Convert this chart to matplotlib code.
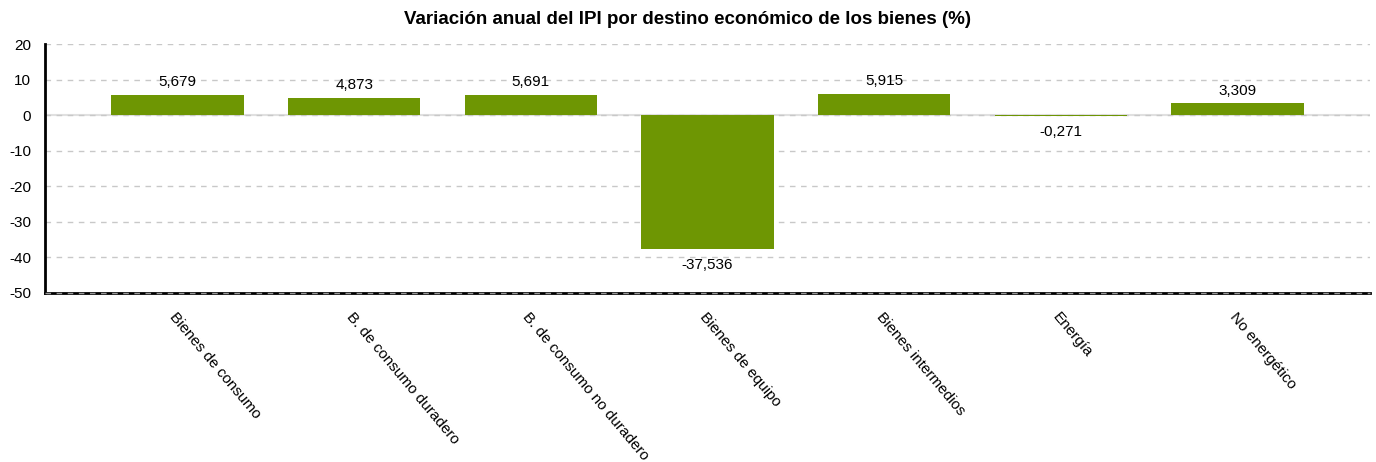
import numpy as np
import matplotlib.pyplot as plt

plt.rcParams['font.family'] = ['Liberation Sans', 'DejaVu Sans']

categorias = ['Bienes de consumo', 'B. de consumo duradero', 'B. de consumo no duradero',
              'Bienes de equipo', 'Bienes intermedios', 'Energía', 'No energético']
valores = [5.679, 4.873, 5.691, -37.536, 5.915, -0.271, 3.309]
etiquetas = ['5,679', '4,873', '5,691', '-37,536', '5,915', '-0,271', '3,309']
yticks = [20, 10, 0, -10, -20, -30, -40, -50]

fig = plt.figure(figsize=(13.76, 4.62), dpi=100)
ax = fig.add_axes([45 / 1376, 1 - 293 / 462, 1325 / 1376, 249 / 462])

x = np.arange(len(categorias))
ax.bar(x, valores, width=0.75, color='#6e9603', zorder=3)

for xi, v, t in zip(x, valores, etiquetas):
    if v >= 0:
        ax.text(xi, v + 1.6, t, ha='center', va='bottom', fontsize=11)
    else:
        ax.text(xi, v - 2.6, t, ha='center', va='top', fontsize=11)

ax.set_xlim(-0.75, 6.75)
ax.set_ylim(-50, 20)
ax.set_yticks(yticks)
ax.set_yticklabels([str(t) for t in yticks], fontsize=11)
ax.yaxis.grid(True, linestyle=(0, (4, 4)), color='#c8c8c8', linewidth=1, zorder=0)
ax.axhline(0, color='#e0e0e0', linewidth=1.5, zorder=1)

ax.set_xticks(x)
ax.set_xticklabels(categorias, rotation=-50, ha='left', va='top',
                   rotation_mode='anchor', fontsize=11)
ax.tick_params(axis='x', length=0, pad=12)
ax.tick_params(axis='y', length=0, pad=10)

for s in ['top', 'right']:
    ax.spines[s].set_visible(False)
ax.spines['left'].set_linewidth(2)
ax.spines['bottom'].set_linewidth(2)
ax.axhline(-50, color='#9a9a9a', linewidth=1, linestyle=(0, (4, 4)), zorder=4, clip_on=False)

fig.suptitle('Variación anual del IPI por destino económico de los bienes (%)',
             fontsize=13.5, fontweight='bold', y=1 - 20 / 462, va='center')

fig.savefig('out.png', dpi=100)
